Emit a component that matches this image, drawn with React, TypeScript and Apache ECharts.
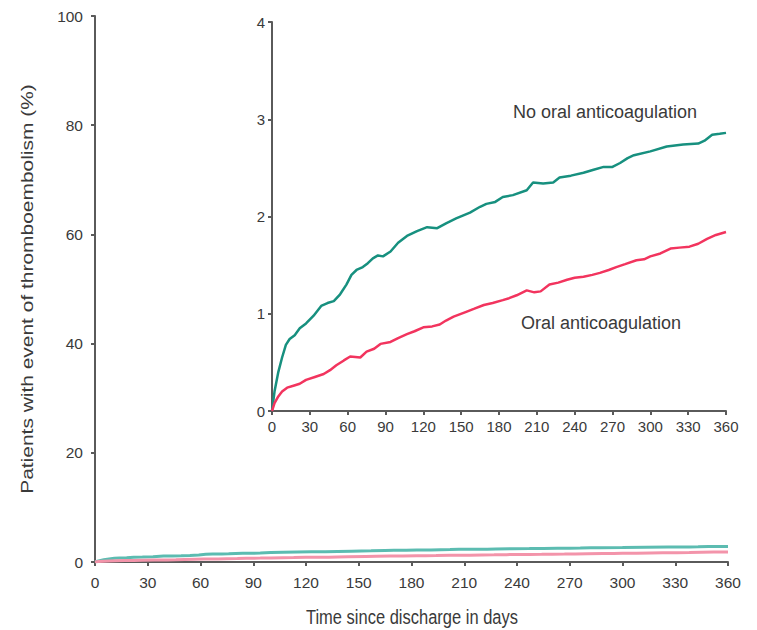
import React, { useEffect, useRef } from "react";
import * as echarts from "echarts";

const xTicks = [0, 30, 60, 90, 120, 150, 180, 210, 240, 270, 300, 330, 360];
const mainYTicks = [0, 20, 40, 60, 80, 100];
const insetYTicks = [0, 1, 2, 3, 4];

const noOacDays = [0, 2, 5, 8, 11, 14, 18, 22, 27, 33, 39, 44, 49, 54, 59, 63, 67, 72, 76, 80, 84, 88, 94, 100, 107, 115, 123, 131, 138, 146, 157, 165, 170, 177, 183, 191, 202, 207, 215, 223, 228, 237, 247, 255, 263, 270, 276, 282, 287, 300, 313, 326, 338, 343, 349, 355, 360];
const noOacValues = [0, 0.2, 0.4, 0.55, 0.68, 0.74, 0.78, 0.85, 0.9, 0.98, 1.08, 1.11, 1.13, 1.2, 1.3, 1.4, 1.45, 1.48, 1.52, 1.57, 1.6, 1.59, 1.64, 1.73, 1.8, 1.85, 1.89, 1.88, 1.93, 1.98, 2.04, 2.1, 2.13, 2.15, 2.2, 2.22, 2.27, 2.35, 2.34, 2.35, 2.4, 2.42, 2.45, 2.48, 2.51, 2.51, 2.55, 2.6, 2.63, 2.67, 2.72, 2.74, 2.75, 2.78, 2.84, 2.85, 2.86];

const oacDays = [0, 2, 5, 8, 12, 17, 22, 27, 34, 41, 46, 51, 57, 62, 70, 75, 81, 86, 94, 100, 107, 113, 120, 127, 133, 138, 144, 154, 160, 168, 175, 183, 188, 194, 202, 208, 213, 220, 227, 234, 240, 247, 254, 260, 267, 273, 280, 289, 295, 300, 308, 316, 323, 331, 338, 345, 352, 360];
const oacValues = [0, 0.08, 0.15, 0.2, 0.24, 0.26, 0.28, 0.32, 0.35, 0.38, 0.42, 0.47, 0.52, 0.56, 0.55, 0.61, 0.64, 0.69, 0.71, 0.75, 0.79, 0.82, 0.86, 0.87, 0.89, 0.93, 0.97, 1.02, 1.05, 1.09, 1.11, 1.14, 1.16, 1.19, 1.24, 1.22, 1.23, 1.3, 1.32, 1.35, 1.37, 1.38, 1.4, 1.42, 1.45, 1.48, 1.51, 1.55, 1.56, 1.59, 1.62, 1.67, 1.68, 1.69, 1.72, 1.77, 1.81, 1.84];

const FONT = "'Liberation Sans', Arial, sans-serif";
const TEXT = "#3a3a3a";

export default function App() {
  const ref = useRef<HTMLDivElement>(null);
  useEffect(() => {
    if (!ref.current) return;
    const chart = echarts.init(ref.current, undefined, { renderer: "svg" });
    const pair = (d: number[], v: number[]) => d.map((x, i) => [x, v[i]]);
    const axisLine = { show: true, lineStyle: { color: "#5a5a5a", width: 2 } };
    const axisTick = { show: true, length: 4, lineStyle: { color: "#5a5a5a", width: 2 } };
    chart.setOption({
      animation: false,
      backgroundColor: "#fff",
      grid: [
        { left: 95, right: 29, top: 16, bottom: 68 },
        { left: 272, right: 31, top: 22, bottom: 219 },
      ],
      xAxis: [
        {
          type: "value",
          gridIndex: 0,
          min: xTicks[0],
          max: xTicks[xTicks.length - 1],
          interval: 30,
          axisLine,
          axisTick,
          splitLine: { show: false },
          axisLabel: { color: TEXT, fontSize: 15.5, fontFamily: FONT, margin: 12 },
        },
        {
          type: "value",
          gridIndex: 1,
          min: xTicks[0],
          max: xTicks[xTicks.length - 1],
          interval: 30,
          axisLine,
          axisTick,
          splitLine: { show: false },
          axisLabel: { color: TEXT, fontSize: 15, fontFamily: FONT, margin: 8 },
        },
      ],
      yAxis: [
        {
          type: "value",
          gridIndex: 0,
          min: mainYTicks[0],
          max: mainYTicks[mainYTicks.length - 1],
          interval: 20,
          axisLine,
          axisTick,
          splitLine: { show: false },
          axisLabel: { color: TEXT, fontSize: 15.5, fontFamily: FONT, margin: 12 },
        },
        {
          type: "value",
          gridIndex: 1,
          min: insetYTicks[0],
          max: insetYTicks[insetYTicks.length - 1],
          interval: 1,
          axisLine,
          axisTick,
          splitLine: { show: false },
          axisLabel: { color: TEXT, fontSize: 15, fontFamily: FONT, margin: 7 },
        },
      ],
      series: [
        {
          type: "line",
          name: "No oral anticoagulation (main)",
          xAxisIndex: 0,
          yAxisIndex: 0,
          data: pair(noOacDays, noOacValues),
          showSymbol: false,
          lineStyle: { color: "#5cbcb1", width: 3 },
          z: 2,
        },
        {
          type: "line",
          name: "Oral anticoagulation (main)",
          xAxisIndex: 0,
          yAxisIndex: 0,
          data: pair(oacDays, oacValues),
          showSymbol: false,
          lineStyle: { color: "#f394aa", width: 3 },
          z: 2,
        },
        {
          type: "line",
          name: "No oral anticoagulation",
          xAxisIndex: 1,
          yAxisIndex: 1,
          data: pair(noOacDays, noOacValues),
          showSymbol: false,
          lineStyle: { color: "#17907f", width: 2.5 },
        },
        {
          type: "line",
          name: "Oral anticoagulation",
          xAxisIndex: 1,
          yAxisIndex: 1,
          data: pair(oacDays, oacValues),
          showSymbol: false,
          lineStyle: { color: "#f2345e", width: 2.5 },
        },
      ],
      graphic: [
        {
          type: "text",
          x: 27,
          y: 289,
          rotation: Math.PI / 2,
          scaleX: 1.27,
          style: {
            text: "Patients with event of thromboembolism (%)",
            fill: TEXT,
            fontSize: 16.5,
            fontFamily: FONT,
            align: "center",
            verticalAlign: "middle",
          },
        },
        {
          type: "text",
          x: 412,
          y: 617,
          scaleY: 1.2,
          style: {
            text: "Time since discharge in days",
            fill: TEXT,
            fontSize: 16.5,
            fontFamily: FONT,
            align: "center",
            verticalAlign: "middle",
          },
        },
        {
          type: "text",
          x: 605,
          y: 112,
          style: {
            text: "No oral anticoagulation",
            fill: TEXT,
            fontSize: 18,
            fontFamily: FONT,
            align: "center",
            verticalAlign: "middle",
          },
        },
        {
          type: "text",
          x: 601,
          y: 323,
          style: {
            text: "Oral anticoagulation",
            fill: TEXT,
            fontSize: 18,
            fontFamily: FONT,
            align: "center",
            verticalAlign: "middle",
          },
        },
      ],
    });
    return () => chart.dispose();
  }, []);
  return (
    <div
      ref={ref}
      style={{ position: "absolute", left: 0, top: 0, width: 757, height: 630 }}
    />
  );
}
